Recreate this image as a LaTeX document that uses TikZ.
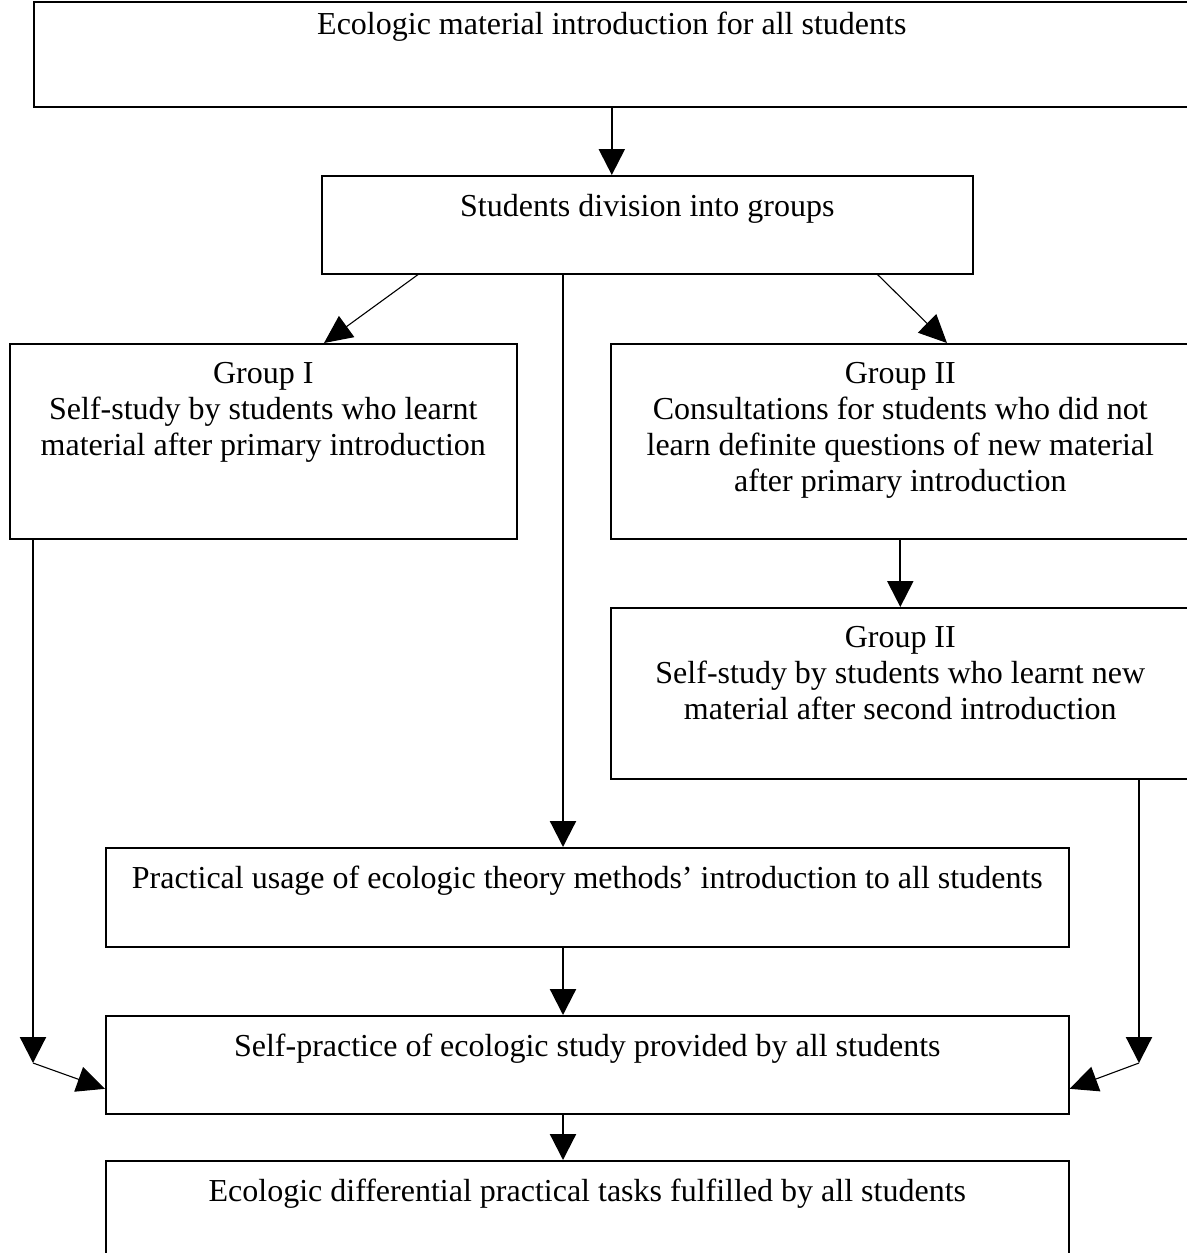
\documentclass[tikz,border=0pt]{standalone}
\usepackage{fontspec}
\setmainfont{Liberation Serif}
\usetikzlibrary{arrows.meta,positioning}
\begin{document}
\begin{tikzpicture}[x=.5pt,y=-.5pt,
  box/.style={draw,line width=.8pt,anchor=north west,inner sep=0pt},
  txt/.style={inner sep=0pt,align=center,font=\fontsize{16}{18}\selectfont},
  arr/.style={-{Triangle[length=13pt,width=13pt]},line width=1.1pt},
  arrthin/.style={-{Triangle[length=14pt,width=13pt]},line width=.55pt}]
\clip (0,0) rectangle (1187,1253);
% boxes
\node[box,minimum width=578pt,minimum height=52.5pt] (intro) at (33,1) {};
\node[box,minimum width=325.5pt,minimum height=49pt] (groups) at (321,175) {};
\node[box,minimum width=253.5pt,minimum height=97.5pt] (grpI) at (9,343) {};
\node[box,minimum width=289.5pt,minimum height=97.5pt] (grpIIa) at (610,343) {};
\node[box,minimum width=289.5pt,minimum height=85.5pt] (grpIIb) at (610,607) {};
\node[box,minimum width=481.5pt,minimum height=49.5pt] (practice) at (105,847) {};
\node[box,minimum width=481.5pt,minimum height=49pt] (selfp) at (105,1015) {};
\node[box,minimum width=481.5pt,minimum height=65pt] (tasks) at (105,1160) {};
% texts
\node[txt,below=5.5pt of intro.north] (intro-t) {Ecologic material introduction for all students};
\node[txt,below=9.5pt of groups.north] (groups-t) {Students division into groups};
\node[txt,below=9.5pt of grpI.north] (grpI-t) {Group I\\Self-study by students who learnt\\material after primary introduction};
\node[txt,below=9.5pt of grpIIa.north] (grpIIa-t) {Group II\\Consultations for students who did not\\learn definite questions of new material\\after primary introduction};
\node[txt,below=9.5pt of grpIIb.north] (grpIIb-t) {Group II\\Self-study by students who learnt new\\material after second introduction};
\node[txt,below=9.5pt of practice.north] (practice-t) {Practical usage of ecologic theory methods' introduction to all students};
\node[txt,below=9.5pt of selfp.north] (selfp-t) {Self-practice of ecologic study provided by all students};
\node[txt,below=9.5pt of tasks.north] (tasks-t) {Ecologic differential practical tasks fulfilled by all students};
% connectors
\coordinate (midline) at (563,600);
\coordinate (bendL) at (33,1063);
\coordinate (bendR) at (1139,1063);
\draw[arr] (intro.south) -- (groups.north -| intro.south);
\draw[arrthin] ([xshift=48.5pt]groups.south west) -- ([xshift=157.5pt]grpI.north west);
\draw[arrthin] ([xshift=-48pt]groups.south east) -- ([xshift=168.5pt]grpIIa.north west);
\draw[arr] (groups.south -| midline) -- (practice.north -| midline);
\draw[arr] (grpIIa.south) -- (grpIIb.north);
\draw[arr] (practice.south -| midline) -- (selfp.north -| midline);
\draw[arr] (selfp.south -| midline) -- (tasks.north -| midline);
\draw[arr] (grpI.south -| bendL) -- (bendL);
\draw[arrthin] (bendL) -- ([yshift=-12pt]selfp.west);
\draw[arr] (grpIIb.south -| bendR) -- (bendR);
\draw[arrthin] (bendR) -- ([yshift=-12pt]selfp.east);
\end{tikzpicture}
\end{document}
